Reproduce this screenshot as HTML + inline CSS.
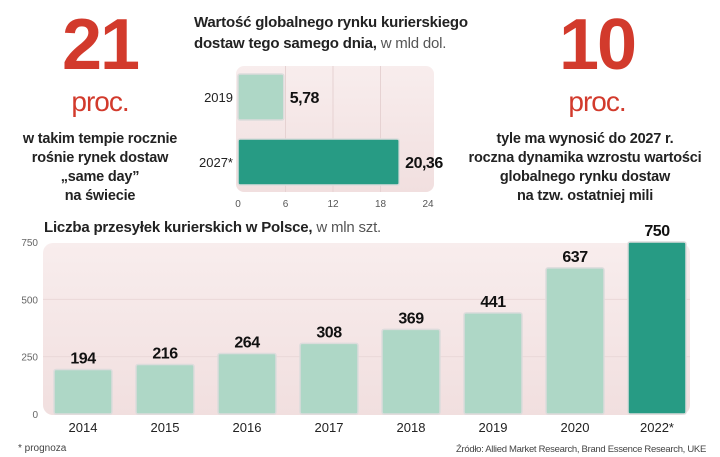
<!DOCTYPE html>
<html><head><meta charset="utf-8"><style>
body{margin:0;width:720px;height:457px;background:#fff;font-family:"Liberation Sans","DejaVu Sans",sans-serif;position:relative;overflow:hidden;color:#1e1e1e}
.a{position:absolute}
.big{color:#d23a2c;font-weight:bold;font-size:72px;line-height:70px;text-align:center;letter-spacing:-2px}
.proc{color:#d23a2c;font-size:28px;text-align:center;letter-spacing:-1px}
.desc{font-size:14.5px;font-weight:bold;text-align:center;line-height:19px;color:#222;letter-spacing:-0.2px}
</style></head><body>
<div class="a big" style="left:40px;top:10px;width:120px">21</div>
<div class="a proc" style="left:40px;top:86px;width:120px">proc.</div>
<div class="a desc" style="left:0;top:130px;width:200px">w takim tempie rocznie<br>rośnie rynek dostaw<br>„same day”<br>na świecie</div>
<div class="a big" style="left:537px;top:10px;width:120px">10</div>
<div class="a proc" style="left:537px;top:86px;width:120px">proc.</div>
<div class="a desc" style="left:445px;top:130px;width:280px">tyle ma wynosić do 2027 r.<br>roczna dynamika wzrostu wartości<br>globalnego rynku dostaw<br>na tzw. ostatniej mili</div>
<div class="a" style="left:194px;top:12px;font-size:15px;line-height:21px;color:#222;letter-spacing:-0.2px"><b>Wartość globalnego rynku kurierskiego<br>dostaw tego samego dnia,</b> <span style="color:#555">w mld dol.</span></div>
<div class="a" style="left:44px;top:219px;font-size:15px;color:#222;letter-spacing:-0.2px"><b>Liczba przesyłek kurierskich w Polsce,</b> <span style="color:#555">w mln szt.</span></div>
<div class="a" style="left:18px;top:443px;font-size:10px;color:#444">* prognoza</div>
<div class="a" style="right:14px;top:444px;font-size:9.5px;color:#444;white-space:nowrap;letter-spacing:-0.3px">Źródło: Allied Market Research, Brand Essence Research, UKE</div>
<svg class="a" style="left:0;top:0" width="720" height="457" id="svg">
<defs><linearGradient id="g" x1="0" y1="0" x2="0" y2="1"><stop offset="0" stop-color="#f8eded"/><stop offset="1" stop-color="#f1dfdf"/></linearGradient></defs>
</svg>
<script>
const topCats=["2019","2027*"];
const topVals=[5.78,20.36];
const topLabels=["5,78","20,36"];
const topTicks=[0,6,12,18,24];
const cats=["2014","2015","2016","2017","2018","2019","2020","2022*"];
const vals=[194,216,264,308,369,441,637,750];
const yTicks=[0,250,500,750];
const NS="http://www.w3.org/2000/svg";
const svg=document.getElementById('svg');
function mk(t,a,txt){const e=document.createElementNS(NS,t);for(const k in a)e.setAttribute(k,a[k]);if(txt!==undefined)e.textContent=txt;svg.appendChild(e);return e;}
const tx=v=>238+v*(190/24);
let e=mk('rect',{x:236,y:66,width:198,height:126,rx:8,fill:'url(#g)'});

topTicks.forEach(t=>{if(t>0&&t<24){e=mk('line',{x1:tx(t),x2:tx(t),y1:66,y2:192,stroke:'#e6d2d2','stroke-width':1});}
e=mk('text',{x:tx(t),y:207,'font-size':10,'text-anchor':'middle',fill:'#555'},t);});
topCats.forEach((c,i)=>{const y=74+i*65;
e=mk('rect',{x:tx(0),y:y,width:tx(topVals[i])-tx(0),height:46,rx:2,fill:i?'#279b84':'#aed7c6',stroke:'#dcdcdc','stroke-width':1.5});
e=mk('text',{x:233,y:y+28,'font-size':13,'text-anchor':'end',fill:'#222'},c);
e=mk('text',{x:tx(topVals[i])+6,y:y+29,'font-size':16,'font-weight':'bold',fill:'#111','letter-spacing':'-0.5'},topLabels[i]);});
const by=v=>414-v*(172/750);
const bx=i=>83+i*82;
e=mk('rect',{x:43,y:243,width:647,height:172,rx:10,fill:'url(#g)'});

yTicks.forEach(t=>{if(t>0&&t<750){e=mk('line',{x1:43,x2:690,y1:by(t),y2:by(t),stroke:'#ead8d8','stroke-width':1});}
e=mk('text',{x:38,y:by(t)+4,'font-size':10,'text-anchor':'end',fill:'#666'},t);});
cats.forEach((c,i)=>{const x=bx(i),last=i===cats.length-1;
e=mk('rect',{x:x-29,y:by(vals[i]),width:58,height:by(0)-by(vals[i]),rx:2,fill:last?'#279b84':'#aed7c6',stroke:'#dcdcdc','stroke-width':1.5});
e=mk('text',{x:x,y:by(vals[i])-6,'font-size':16,'font-weight':'bold','text-anchor':'middle',fill:'#111','letter-spacing':'-0.5'},vals[i]);
e=mk('text',{x:x,y:432,'font-size':13,'text-anchor':'middle',fill:'#222'},c);});
</script>
</body></html>
